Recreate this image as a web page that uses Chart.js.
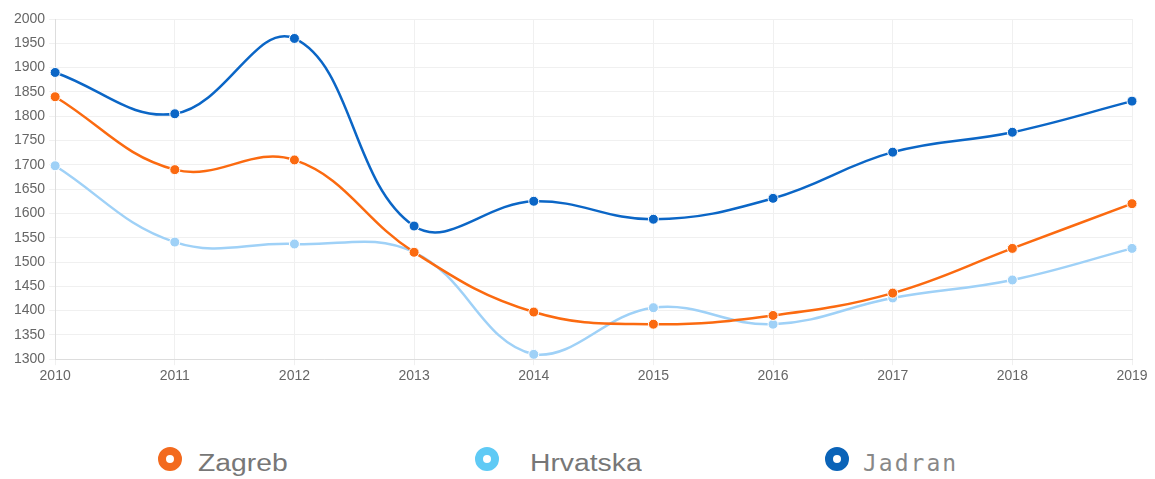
<!DOCTYPE html>
<html>
<head>
<meta charset="utf-8">
<script src="https://cdn.jsdelivr.net/npm/chart.js@4/dist/chart.umd.min.js"></script>
<style>
  body { margin: 0; background: #fff; font-family: "Liberation Sans", Arial, sans-serif; }
  #wrap { position: relative; width: 1155px; height: 479px; }
  #box { position: absolute; left: 0; top: 0; width: 1155px; height: 388px; }
  .leg { position: absolute; top: 444px; font-size: 23px; color: #777; line-height: 36px; }
  .dot { position: absolute; top: 3px; width: 8px; height: 8px; border-radius: 50%; border: 8px solid; background: #fff; }
  .leg span.t { position: absolute; top: 1px; white-space: nowrap; transform: scaleX(1.23); transform-origin: left center; }
  .leg span.mono { font-family: "DejaVu Sans Mono", monospace; font-size: 23px; letter-spacing: 2px; color: #888; transform: none; }
</style>
</head>
<body>
<div id="wrap">
  <div id="box"><canvas id="myChart"></canvas></div>
  <div id="legend"></div>
</div>
<script>
const years = ['2010', '2011', '2012', '2013', '2014', '2015', '2016', '2017', '2018', '2019'];
const zagreb = [1840, 1690, 1710, 1520, 1397, 1372, 1390, 1436, 1528, 1620];
const hrvatska = [1698, 1541, 1537, 1520, 1310, 1406, 1372, 1426, 1463, 1528];
const jadran = [1890, 1805, 1960, 1574, 1625, 1588, 1631, 1726, 1767, 1831];
const names = ['Zagreb', 'Hrvatska', 'Jadran'];
const colors = ['#fb6a10', '#9fd1f7', '#0b66c6'];
const legendDots = ['#f36a1e', '#5fcaf5', '#0a63b8'];

const ctx = document.getElementById("myChart");

function ds(i, values) {
  return {
    label: names[i],
    data: values,
    borderColor: colors[i],
    backgroundColor: colors[i],
    pointBackgroundColor: colors[i],
    pointBorderColor: '#fff',
    pointBorderWidth: 1,
    pointRadius: 5,
    borderWidth: 2.5,
    tension: 0.4,
    fill: false
  };
}

new Chart(ctx, {
  type: 'line',
  data: {
    labels: years,
    datasets: [ds(2, jadran), ds(0, zagreb), ds(1, hrvatska)]
  },
  options: {
    responsive: true,
    maintainAspectRatio: false,
    animation: false,
    layout: { padding: { top: 19, right: 23, left: 10 } },
    plugins: { legend: { display: false }, tooltip: { enabled: false } },
    scales: {
      x: {
        grid: { color: '#f0f0f0', drawTicks: true, tickLength: 6 },
        border: { color: '#ddd' },
        ticks: { color: '#666', font: { size: 14 }, maxRotation: 0 }
      },
      y: {
        min: 1300,
        max: 2000,
        grid: { color: '#f0f0f0', tickLength: 6 },
        border: { color: '#ddd' },
        ticks: {
          stepSize: 50, color: '#666', font: { size: 14 }, padding: 4,
          callback: function (v) { return String(v); }
        }
      }
    }
  }
});

// html legend below the chart
const legX = [[158, 198], [475, 530], [825, 863]];
const legend = document.getElementById('legend');
names.forEach(function (n, i) {
  const d = document.createElement('div');
  d.className = 'leg';
  d.style.left = legX[i][0] + 'px';
  const cls = i === 2 ? 't mono' : 't';
  d.innerHTML = '<div class="dot" style="left:0;border-color:' + legendDots[i] + '"></div>' +
    '<span class="' + cls + '" style="left:' + (legX[i][1] - legX[i][0]) + 'px">' + n + '</span>';
  legend.appendChild(d);
});
</script>
</body>
</html>
